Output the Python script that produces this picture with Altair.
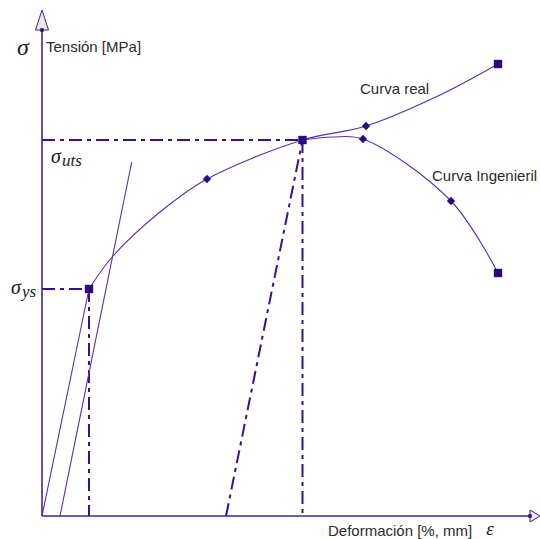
import altair as alt
import pandas as pd

# Stress-strain diagram: real (true) curve vs engineering curve
real_strain = [4.7, 7.1, 11.8, 16.5, 26.05, 32.4, 39.8, 45.6]
real_stress = [227, 260, 304, 337, 376, 390, 421, 452]

eng_strain = [26.05, 29.1, 32.1, 40.9, 45.6]
eng_stress = [376, 379, 377, 315, 243]

# Marked points on the curves
sq_strain = [4.7, 26.05, 45.6, 45.6]
sq_stress = [227, 376, 452, 243]
dia_strain = [16.5, 32.4, 32.1, 40.9]
dia_stress = [337, 390, 377, 315]

# Yield and ultimate strength
ys_strain, ys_stress = 4.7, 227
uts_strain, uts_stress = 26.05, 376
unload_start = 18.4          # strain where the unloading line from UTS meets the axis
offset_start = 1.8           # offset (parallel) elastic line
offset_end = (8.97, 354)

X_MAX, Y_MAX = 49.8, 506
xs = alt.Scale(domain=[0, X_MAX], nice=False, zero=False)
ys = alt.Scale(domain=[0, Y_MAX], nice=False, zero=False)

LINE = "#5a2fb0"
DARK = "#2c0a7c"
DASH = "#3a108e"
AXIS = "#4a1ea6"
TXT = "#2b2b2b"


def X(f="x"):
    return alt.X(f, type="quantitative", scale=xs, axis=None)


def Y(f="y"):
    return alt.Y(f, type="quantitative", scale=ys, axis=None)


real_df = pd.DataFrame({"x": real_strain, "y": real_stress})
eng_df = pd.DataFrame({"x": eng_strain, "y": eng_stress})

real_line = alt.Chart(real_df).mark_line(
    interpolate="catmull-rom", color=LINE, strokeWidth=1.1
).encode(x=X(), y=Y())
eng_line = alt.Chart(eng_df).mark_line(
    interpolate="catmull-rom", color=LINE, strokeWidth=1.1
).encode(x=X(), y=Y())

# Dash-dot construction lines
dash_df = pd.DataFrame({
    "x": [0, uts_strain, unload_start, 0, ys_strain],
    "y": [uts_stress, uts_stress, 0, ys_stress, ys_stress],
    "x2": [uts_strain, uts_strain, uts_strain, ys_strain, ys_strain],
    "y2": [uts_stress, 0, uts_stress, ys_stress, 0],
})
dash_rules = alt.Chart(dash_df).mark_rule(
    color=DASH, strokeWidth=2, strokeDash=[13, 5, 4, 5]
).encode(x=X(), y=Y(), x2="x2", y2="y2")

# Elastic line and offset line
solid_df = pd.DataFrame({
    "x": [0, offset_start],
    "y": [0, 0],
    "x2": [ys_strain, offset_end[0]],
    "y2": [ys_stress, offset_end[1]],
})
solid_rules = alt.Chart(solid_df).mark_rule(
    color=LINE, strokeWidth=1.1
).encode(x=X(), y=Y(), x2="x2", y2="y2")

squares = alt.Chart(pd.DataFrame({"x": sq_strain, "y": sq_stress})).mark_point(
    shape="square", filled=True, size=70, color=DARK, opacity=1
).encode(x=X(), y=Y())
diamonds = alt.Chart(pd.DataFrame({"x": dia_strain, "y": dia_stress})).mark_point(
    shape="diamond", filled=True, size=70, color=DARK, opacity=1
).encode(x=X(), y=Y())

# Axes drawn as arrows
axes_df = pd.DataFrame({
    "x": [0, 0], "y": [0, 0], "x2": [48.8, 0], "y2": [0, 486],
})
axes = alt.Chart(axes_df).mark_rule(color=AXIS, strokeWidth=1.6).encode(
    x=X(), y=Y(), x2="x2", y2="y2"
)
arrow_up = alt.Chart(pd.DataFrame({"x": [0], "y": [496]})).mark_point(
    shape="M0,-1L0.65,1L-0.65,1Z", size=400, filled=True,
    fill="#ebe8dc", stroke=AXIS, strokeWidth=1, opacity=1
).encode(x=X(), y=Y())
arrow_right = alt.Chart(pd.DataFrame({"x": [49.3], "y": [0]})).mark_point(
    shape="M1,0L-1,-1.2L-1,1.2Z", size=100, filled=True,
    fill="#ebe8dc", stroke=AXIS, strokeWidth=1, opacity=1
).encode(x=X(), y=Y())
arrow_base = alt.Chart(pd.DataFrame({"x": [0, 48.8], "y": [486, 0]})).mark_point(
    shape="square", filled=True, size=12, color=DARK, opacity=1
).encode(x=X(), y=Y())

# Plain labels
lab_df = pd.DataFrame({
    "x": [0.4, 31.8, 39.0, 28.6],
    "y": [469, 427, 340, -15],
    "t": ["Tensión [MPa]", "Curva real", "Curva Ingenieril", "Deformación [%, mm]"],
})
labels = alt.Chart(lab_df).mark_text(
    align="left", baseline="middle", font="Liberation Sans", fontSize=15, color=TXT
).encode(x=X(), y=Y(), text="t")

# Greek symbols
greek_df = pd.DataFrame({
    "x": [-1.9, 44.8, 1.4, -2.6],
    "y": [468, -13, 359, 228],
    "t": ["σ", "ε", "σ", "σ"],
    "s": [24, 19, 20, 20],
})
greek = alt.Chart(greek_df).mark_text(
    align="center", baseline="middle", font="Liberation Serif",
    fontStyle="italic", color="#1a1a1a"
).encode(x=X(), y=Y(), text="t", size=alt.Size("s:Q", scale=None, legend=None))

sub_df = pd.DataFrame({"x": [2.0, -2.0], "y": [355, 224], "t": ["uts", "ys"]})
subs = alt.Chart(sub_df).mark_text(
    align="left", baseline="middle", font="Liberation Serif",
    fontStyle="italic", fontSize=17, color="#1a1a1a"
).encode(x=X(), y=Y(), text="t")

chart = alt.layer(
    dash_rules, solid_rules, real_line, eng_line, axes,
    squares, diamonds, arrow_up, arrow_right, arrow_base,
    labels, greek, subs,
).properties(
    width=498, height=506,
    padding={"left": 42, "top": 10, "right": 0, "bottom": 23},
    autosize=alt.AutoSizeParams(type="none"),
    background="white",
).configure_view(stroke=None)

chart.save("out.html", embed_options={"renderer": "svg", "actions": False})
